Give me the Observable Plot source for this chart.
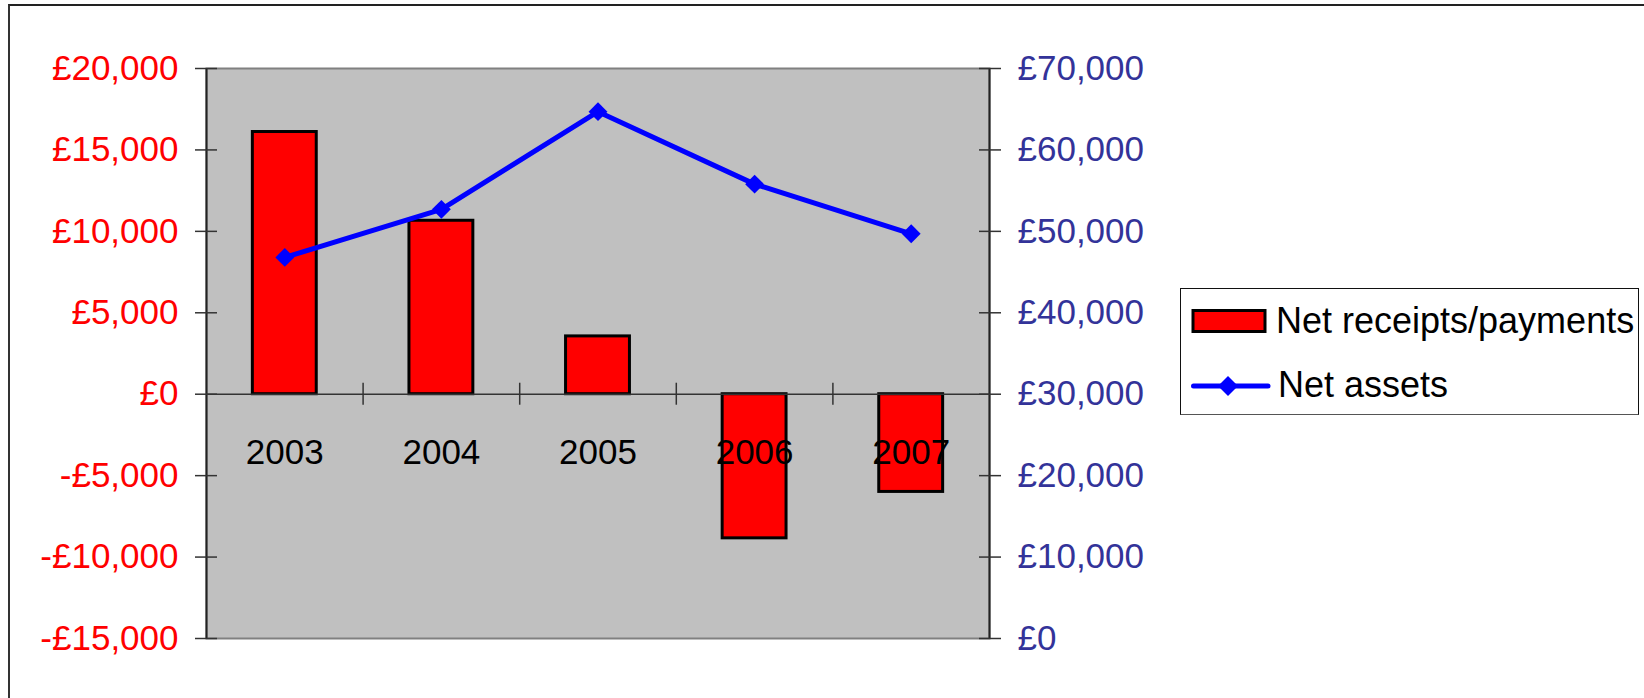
<!DOCTYPE html>
<html>
<head>
<meta charset="utf-8">
<script src="https://cdn.jsdelivr.net/npm/d3@7"></script>
<script src="https://cdn.jsdelivr.net/npm/@observablehq/plot@0.6"></script>
<style>
  html, body { margin: 0; padding: 0; background: #fff; }
  #wrap { position: relative; width: 1644px; height: 698px; overflow: hidden; background: #fff;
          font-family: "Liberation Sans", Arial, sans-serif; }
  #border { position: absolute; left: 8px; top: 4px; width: 3000px; height: 3000px;
            border-top: 2px solid #222; border-left: 2px solid #333; }
  #chart { position: absolute; left: 0; top: 0; }
  #legend { position: absolute; left: 1180px; top: 288px; width: 459px; height: 127px;
            border: 1.5px solid #111; border-bottom-color: #555; background: #fff; box-sizing: border-box; }
  .item { position: absolute; left: 10px; display: flex; align-items: center; font-size: 36px; color: #000; white-space: nowrap; }
  .item svg { display: block; margin-right: 7px; }
</style>
</head>
<body>
<div id="wrap">
  <div id="border"></div>
  <div id="chart"></div>
  <div id="legend">
    <div class="item" style="top:11px;">
      <svg width="78" height="26"><rect x="2" y="2.5" width="72" height="21" fill="#FF0000" stroke="#000" stroke-width="3"/></svg>
      <span>Net receipts/payments</span>
    </div>
    <div class="item" style="top:75px;">
      <svg width="80" height="30"><line x1="2.5" y1="16" x2="77" y2="16" stroke="#0000FF" stroke-width="5" stroke-linecap="round"/><path d="M37,6 L47,16 L37,26 L27,16 Z" fill="#0000FF"/></svg>
      <span>Net assets</span>
    </div>
  </div>
</div>
<script>
// ---- data ----
const years = [2003, 2004, 2005, 2006, 2007];
const netReceipts = [16100, 10650, 3550, -8850, -6000];
const netAssets = [46800, 52700, 64700, 55800, 49700];
const leftTicks = [-15000, -10000, -5000, 0, 5000, 10000, 15000, 20000];
const rightTicks = [0, 10000, 20000, 30000, 40000, 50000, 60000, 70000];
const leftDomain = [-15000, 20000];
const rightDomain = [0, 70000];
const seriesNames = ["Net receipts/payments", "Net assets"];

// ---- derived ----
const xDomain = [years[0] - 0.5, years[years.length - 1] + 0.5];
const boundaries = years.slice(1).map(y => y - 0.5);
const barHalf = 0.204;
const toLeft = v => leftDomain[0] + (v - rightDomain[0]) * (leftDomain[1] - leftDomain[0]) / (rightDomain[1] - rightDomain[0]);
const toRight = v => rightDomain[0] + (v - leftDomain[0]) * (rightDomain[1] - rightDomain[0]) / (leftDomain[1] - leftDomain[0]);
const data = years.map((y, i) => ({year: y, net: netReceipts[i], assets: netAssets[i]}));
const fmtNum = d3.format(",");
const fmtLeft = d => (d < 0 ? "-" : "") + "£" + fmtNum(Math.abs(d));
const fmtRight = d => "£" + fmtNum(Math.round(toRight(d)));

const FS = 35;
const chart = Plot.plot({
  width: 1644,
  height: 698,
  marginLeft: 206,
  marginRight: 655,
  marginTop: 68,
  marginBottom: 60,
  style: {background: "transparent", fontFamily: "'Liberation Sans', Arial, sans-serif", fontSize: FS + "px", overflow: "visible"},
  x: {type: "linear", domain: xDomain, axis: null},
  y: {domain: leftDomain},
  marks: [
    Plot.frame({fill: "#C0C0C0", stroke: "#808080", strokeWidth: 2}),
    Plot.ruleX(xDomain, {stroke: "#222", strokeWidth: 2}),
    Plot.rect(data, {x1: d => d.year - barHalf, x2: d => d.year + barHalf, y1: 0, y2: d => d.net,
      fill: "#FF0000", stroke: "#000", strokeWidth: 3}),
    Plot.ruleY([0], {stroke: "#333", strokeWidth: 1.5}),
    Plot.ruleX(boundaries, {y1: 0, y2: 0, insetTop: -11, insetBottom: -11, stroke: "#333", strokeWidth: 1.5}),
    // left axis
    Plot.axisY(leftTicks, {anchor: "left", tickSize: 22, dx: 11, tickFormat: () => "", stroke: "#333", strokeWidth: 1.5, label: null}),
    Plot.axisY(leftTicks, {anchor: "left", tickSize: 0, tickPadding: 28, tickFormat: fmtLeft, fill: "#FF0000", fontSize: FS, label: null}),
    // right axis
    Plot.axisY(rightTicks.map(toLeft), {anchor: "right", tickSize: 22, dx: -11, tickFormat: () => "", stroke: "#333", strokeWidth: 1.5, label: null}),
    Plot.axisY(rightTicks.map(toLeft), {anchor: "right", tickSize: 0, tickPadding: 28, tickFormat: fmtRight, fill: "#333399", fontSize: FS, label: null}),
    // net assets line
    Plot.line(data, {x: "year", y: d => toLeft(d.assets), stroke: "#0000FF", strokeWidth: 5}),
    Plot.dot(data, {x: "year", y: d => toLeft(d.assets), symbol: "diamond2", r: 8.5, fill: "#0000FF", stroke: "none"}),
    // category labels
    Plot.text(years, {x: d => d, y: 0, dy: 59, text: d => String(d), fill: "#000", fontSize: FS})
  ]
});
document.getElementById("chart").appendChild(chart);
</script>
</body>
</html>
